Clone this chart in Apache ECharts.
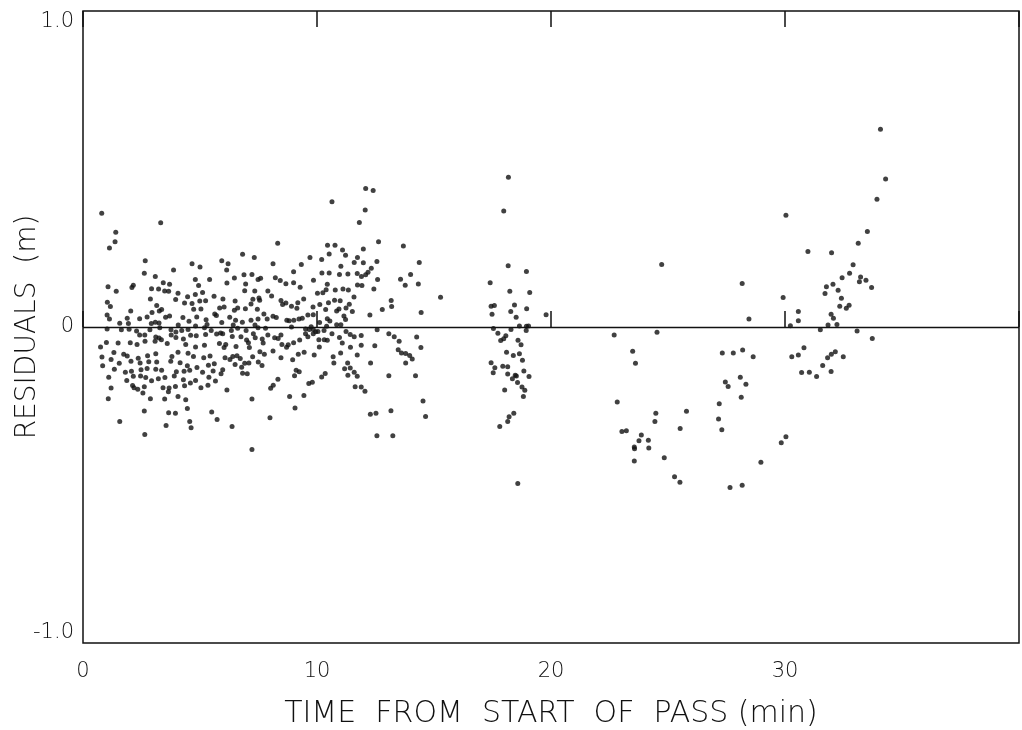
<!DOCTYPE html>
<html>
<head>
<meta charset="utf-8">
<title>Residuals</title>
<script src="https://cdn.jsdelivr.net/npm/echarts@6/dist/echarts.min.js"></script>
<style>
  html, body { margin: 0; padding: 0; background: #fff; }
  #chart { width: 1022px; height: 730px; }
</style>
</head>
<body>
<div id="chart"></div>
<script>
// [time (min), residual (m)], grouped by stretch of the pass
var earlyPass = [
  [0.80,0.36],[3.32,0.33],[1.40,0.30],[1.37,0.27],[1.13,0.25],[6.82,0.23],[7.32,0.22],[5.93,0.21],[6.20,0.20],[2.66,0.21],
  [4.66,0.20],[5.00,0.19],[3.87,0.18],[2.62,0.17],[6.14,0.18],[3.09,0.16],[3.43,0.14],[3.70,0.135],[4.80,0.15],[5.41,0.15],
  [6.47,0.155],[6.88,0.165],[7.22,0.166],[7.48,0.15],[1.07,0.127],[1.42,0.113],[2.15,0.132],[2.09,0.125],[2.93,0.121],[3.23,0.12],
  [3.49,0.114],[3.66,0.113],[4.94,0.131],[6.95,0.136],[6.15,0.139],[6.91,0.115],[7.34,0.114],[4.06,0.107],[4.47,0.096],[4.80,0.103],
  [5.11,0.109],[5.60,0.097],[5.98,0.089],[2.88,0.089],[3.96,0.087],[6.50,0.082],[7.26,0.088],[7.52,0.092],[1.04,0.078],[1.17,0.065],
  [3.15,0.068],[4.34,0.076],[4.66,0.074],[4.99,0.082],[5.24,0.083],[2.04,0.051],[3.36,0.055],[2.95,0.046],[3.26,0.051],[4.73,0.056],
  [5.04,0.057],[5.84,0.06],[6.03,0.063],[5.63,0.041],[6.47,0.053],[6.61,0.06],[6.94,0.058],[7.18,0.073],[7.45,0.056],[1.03,0.038],
  [1.13,0.025],[1.57,0.012],[1.89,0.028],[2.42,0.026],[2.74,0.032],[3.53,0.031],[3.70,0.035],[4.27,0.03],[4.86,0.032],[5.26,0.023],
  [5.70,0.036],[6.27,0.031],[6.52,0.021],[6.81,0.015],[7.18,0.021],[7.48,0.025],[1.94,0.011],[3.09,0.015],[2.92,0.011],[3.25,0.013],
  [4.07,0.006],[5.30,0.008],[5.93,0.014],[6.42,0.006],[7.35,0.006],[4.53,0.018],
  [1.03,-0.006],[1.64,-0.009],[1.97,-0.007],[2.29,-0.013],[2.86,-0.009],[3.28,-0.002],[3.76,-0.009],[3.97,-0.016],[4.22,-0.011],[4.49,-0.008],
  [4.81,0.003],[5.19,-0.002],[5.48,-0.011],[5.88,-0.019],[6.34,-0.011],[6.61,-0.004],[6.97,-0.011],[7.28,-0.021],[7.48,-0.002],
  [2.42,-0.025],[2.64,-0.025],[3.11,-0.032],[3.77,-0.025],[3.97,-0.033],[4.29,-0.038],[4.60,-0.026],[4.84,-0.028],[5.24,-0.024],[5.71,-0.022],
  [5.97,-0.021],[6.38,-0.03],[6.75,-0.031],[6.99,-0.041],[7.36,-0.034],[3.25,-0.035],[3.35,-0.04],
  [1.00,-0.049],[0.75,-0.063],[1.50,-0.051],[2.02,-0.05],[2.31,-0.055],[2.65,-0.045],[3.08,-0.045],[3.60,-0.052],[4.39,-0.055],[4.81,-0.063],
  [5.19,-0.058],[5.83,-0.052],[6.10,-0.055],[6.03,-0.065],[6.54,-0.062],[7.07,-0.05],[7.11,-0.065],
  [1.32,-0.081],[0.81,-0.095],[1.74,-0.086],[1.89,-0.092],[2.36,-0.099],[2.76,-0.091],[3.11,-0.085],[3.80,-0.093],[4.06,-0.08],[4.49,-0.083],
  [4.72,-0.093],[5.16,-0.097],[5.43,-0.092],[6.07,-0.097],[6.40,-0.093],[6.58,-0.091],[6.72,-0.1],[7.25,-0.094],[6.28,-0.103],
  [0.84,-0.123],[1.20,-0.103],[1.55,-0.115],[2.05,-0.108],[2.44,-0.114],[2.81,-0.11],[3.15,-0.111],[3.75,-0.108],[4.15,-0.113],[4.46,-0.123],
  [4.87,-0.128],[5.36,-0.121],[5.61,-0.116],[6.91,-0.115],[7.09,-0.114],[7.49,-0.111],
  [1.34,-0.134],[1.81,-0.143],[2.07,-0.14],[2.48,-0.135],[2.74,-0.131],[3.11,-0.134],[3.36,-0.137],[3.99,-0.142],[4.32,-0.14],[4.56,-0.137],
  [5.11,-0.143],[5.56,-0.139],[5.97,-0.135],[6.78,-0.127],[6.82,-0.146],[7.02,-0.148],
  [1.10,-0.159],[1.87,-0.169],[2.15,-0.156],[2.46,-0.155],[2.68,-0.16],[2.93,-0.17],[3.22,-0.164],[3.50,-0.16],[3.90,-0.155],[4.29,-0.167],
  [4.81,-0.169],[5.38,-0.159],[5.66,-0.171],[5.90,-0.148],[6.50,-0.119],
  [2.12,-0.185],[2.18,-0.192],[2.34,-0.197],[2.62,-0.189],[3.42,-0.192],[3.68,-0.193],[3.95,-0.188],[4.34,-0.186],[4.59,-0.177],[5.04,-0.192],
  [5.34,-0.184],[6.15,-0.199],[1.20,-0.193],[1.08,-0.227],[2.56,-0.209],[2.88,-0.227],[3.65,-0.205],[3.49,-0.228],[4.06,-0.22],[4.39,-0.23],
  [7.22,-0.228],[2.62,-0.266],[3.66,-0.271],[3.95,-0.273],[4.46,-0.258],[5.50,-0.269],[5.73,-0.293],[4.56,-0.299],[1.57,-0.299],[3.55,-0.312],
  [4.62,-0.319],[6.37,-0.315],[2.64,-0.34],[7.22,-0.388]
];

var midPass = [
  [12.08,0.438],[12.40,0.432],[10.64,0.396],[12.06,0.370],[11.81,0.331],[12.63,0.270],[8.32,0.265],[13.69,0.256],[10.45,0.259],[10.77,0.259],
  [11.98,0.247],[11.09,0.244],[11.22,0.227],[10.52,0.231],[9.70,0.220],[10.20,0.214],[11.73,0.220],[14.37,0.204],[8.12,0.200],[9.33,0.198],
  [11.59,0.204],[11.98,0.203],[12.56,0.207],[11.02,0.192],[12.32,0.186],[12.18,0.173],[12.08,0.165],[11.90,0.160],[11.72,0.169],[11.32,0.168],
  [14.00,0.166],[10.21,0.171],[10.52,0.171],[9.00,0.175],[13.57,0.151],[13.77,0.132],[14.33,0.136],[12.59,0.150],[8.22,0.156],[7.59,0.154],
  [8.43,0.147],[8.67,0.137],[9.00,0.140],[9.28,0.126],[9.85,0.148],[10.44,0.135],[10.96,0.166],[11.34,0.117],[11.11,0.120],[10.78,0.117],
  [10.39,0.118],[12.43,0.120],[11.73,0.133],[11.92,0.131],[10.02,0.107],[10.25,0.108],[7.90,0.114],[8.06,0.098],[15.28,0.094],[13.17,0.084],
  [13.19,0.065],[12.79,0.055],[14.45,0.046],[12.26,0.038],[7.55,0.085],[8.46,0.084],[8.67,0.076],[8.53,0.071],[8.91,0.066],[9.18,0.077],
  [9.43,0.089],[9.83,0.063],[10.12,0.071],[10.49,0.077],[10.75,0.085],[10.99,0.083],[11.58,0.095],[11.38,0.072],[11.24,0.060],[10.94,0.057],
  [10.84,0.051],[11.51,0.049],[10.37,0.055],[9.84,0.039],[9.61,0.038],[9.37,0.028],[9.23,0.025],[9.14,0.059],[7.73,0.041],[8.12,0.034],
  [8.26,0.030],[8.81,0.020],[9.01,0.021],[8.71,0.021],[7.87,0.025],[10.11,0.014],[10.44,0.026],[10.55,0.019],[10.84,0.007],[11.02,0.007],
  [11.15,0.035],[11.22,0.024],[9.75,0.001],[10.04,-0.014],[10.30,-0.011],[10.41,0.002],[9.94,-0.015],[7.80,-0.004],[8.91,0.000],[9.51,-0.006],
  [9.67,-0.008],[9.84,-0.008],
  [7.66,-0.038],[7.70,-0.051],[7.90,-0.025],[8.19,-0.034],[8.46,-0.025],[8.34,-0.036],[8.50,-0.055],[8.77,-0.056],[9.00,-0.050],[9.26,-0.041],
  [9.51,-0.021],[9.61,-0.031],[9.84,-0.021],[10.08,-0.040],[10.31,-0.040],[10.44,-0.042],[10.64,-0.021],[10.96,-0.033],[11.24,-0.014],[11.42,-0.024],
  [11.59,-0.031],[11.89,-0.027],[12.57,-0.009],[13.07,-0.021],[13.30,-0.031],[13.51,-0.045],[14.26,-0.032],[12.47,-0.059],[12.29,-0.114],[13.47,-0.072],
  [13.61,-0.082],[13.79,-0.084],[13.96,-0.090],[14.07,-0.101],[14.44,-0.065],[13.79,-0.114],[11.89,-0.058],[11.72,-0.089],[11.43,-0.064],[11.08,-0.051],
  [11.01,-0.082],[10.69,-0.094],[10.72,-0.114],[10.10,-0.063],[9.88,-0.089],[9.45,-0.080],[9.20,-0.086],[8.96,-0.104],[8.70,-0.064],[8.46,-0.097],
  [8.12,-0.076],[7.75,-0.086],[7.56,-0.078],[7.65,-0.122],[8.33,-0.165],[8.13,-0.184],[8.02,-0.194],[8.83,-0.220],[9.44,-0.217],[9.06,-0.256],
  [9.65,-0.179],[9.80,-0.175],[9.04,-0.154],[9.11,-0.137],[9.24,-0.142],[10.35,-0.147],[10.20,-0.158],[11.31,-0.114],[11.42,-0.130],[11.18,-0.132],
  [11.32,-0.153],[11.59,-0.143],[11.72,-0.156],[11.63,-0.189],[11.89,-0.190],[12.05,-0.203],[13.07,-0.154],[14.21,-0.154],[14.53,-0.234],[13.16,-0.265],
  [12.28,-0.276],[12.52,-0.273],[14.64,-0.283],[12.56,-0.344],[13.24,-0.344],[7.99,-0.287]
];

var clusterPass = [
  [18.18,0.474],[17.98,0.367],[18.17,0.194],[18.95,0.176],[17.40,0.140],[18.24,0.113],[19.09,0.109],[17.44,0.066],[17.58,0.068],[18.44,0.070],
  [18.96,0.058],[18.28,0.049],[17.48,0.040],[18.51,0.031],[19.79,0.039],[18.65,0.003],[18.95,0.002],[19.04,0.003],[17.54,-0.005],[18.29,-0.008],
  [18.94,-0.011],[17.73,-0.020],[18.07,-0.028],[17.98,-0.037],[17.85,-0.043],[18.59,-0.042],[18.72,-0.056],[18.10,-0.080],[18.39,-0.090],[18.65,-0.085],
  [18.78,-0.105],[17.44,-0.113],[17.60,-0.129],[17.94,-0.124],[18.15,-0.126],[17.53,-0.145],[18.84,-0.139],[18.15,-0.149],[18.47,-0.153],[18.52,-0.155],
  [19.06,-0.157],[18.35,-0.164],[18.57,-0.176],[18.76,-0.190],[18.88,-0.200],[18.02,-0.199],[18.82,-0.220],[18.41,-0.273],[18.21,-0.284],[18.15,-0.299],
  [17.81,-0.315],[18.58,-0.495]
];

var latePass = [
  [24.73,0.198],[28.17,0.138],[28.46,0.025],[22.70,-0.025],[24.53,-0.017],[23.49,-0.077],[23.61,-0.115],[27.32,-0.082],[27.79,-0.082],[28.19,-0.073],
  [28.64,-0.094],[28.09,-0.159],[27.45,-0.174],[27.57,-0.188],[28.33,-0.181],[28.13,-0.222],[22.83,-0.237],[27.19,-0.243],[24.48,-0.273],[25.79,-0.267],
  [24.44,-0.299],[27.16,-0.291],[25.52,-0.321],[27.30,-0.325],[23.03,-0.331],[23.22,-0.328],[23.86,-0.342],[23.76,-0.360],[24.16,-0.358],[23.56,-0.380],
  [23.57,-0.385],[24.18,-0.383],[23.56,-0.424],[24.84,-0.414],[30.04,-0.347],[29.84,-0.366],[28.97,-0.428],[25.28,-0.474],[25.51,-0.491],[27.65,-0.508],
  [28.17,-0.501],
  [34.08,0.626],[34.30,0.468],[33.93,0.404],[30.04,0.354],[33.52,0.302],[33.13,0.265],[30.98,0.239],[31.99,0.235],[32.91,0.197],[32.76,0.170],
  [32.44,0.156],[33.23,0.158],[33.46,0.148],[33.18,0.143],[33.70,0.125],[31.77,0.127],[32.05,0.135],[31.71,0.106],[32.27,0.116],[32.41,0.091],
  [29.92,0.093],[32.34,0.066],[32.62,0.059],[32.74,0.069],[30.57,0.049],[31.97,0.040],[32.07,0.028],[30.57,0.020],[30.23,0.004],[31.84,0.006],
  [32.22,0.008],[31.51,-0.009],[33.08,-0.013],[33.73,-0.036],[30.81,-0.066],[30.29,-0.094],[30.57,-0.089],[32.15,-0.078],[31.98,-0.086],[31.82,-0.097],
  [32.49,-0.094],[31.61,-0.122],[30.71,-0.144],[31.04,-0.143],[31.35,-0.157],[31.97,-0.141]
];

var xTicks = [0, 10, 20, 30];
var yTickLabels = { "-1": "-1.0", "0": "0", "1": "1.0" };

var ink = "#111";
var font = "'DejaVu Sans', sans-serif";

function dots(name, data) {
  return {
    name: name,
    type: "scatter",
    data: data,
    symbol: "circle",
    symbolSize: 5,
    itemStyle: { color: ink },
    silent: true
  };
}

var chart = echarts.init(document.getElementById("chart"));

var series = [
  dots("early", earlyPass),
  dots("mid", midPass),
  dots("cluster", clusterPass),
  dots("late", latePass)
];
// the zero reference line
series[0].markLine = {
  silent: true,
  symbol: ["none", "none"],
  label: { show: false },
  lineStyle: { color: ink, width: 1.3, type: "solid" },
  data: [{ yAxis: 0 }]
};

var option = {
  backgroundColor: "#fff",
  animation: false,
  grid: {
    left: 83,
    right: 3,
    top: 11,
    bottom: 87,
    outerBoundsMode: "none",
    show: true,
    borderColor: ink,
    borderWidth: 1.5
  },
  xAxis: [
    {
      type: "value",
      min: 0,
      max: 40,
      interval: 10,
      position: "bottom",
      name: "TIME  FROM  START  OF  PASS (min)",
      nameLocation: "middle",
      nameGap: 56,
      nameMoveOverlap: false,
      nameTextStyle: { color: ink, fontSize: 30, fontWeight: 200, fontFamily: font },
      axisLine: { show: false },
      axisTick: { show: true, inside: true, length: 16, lineStyle: { color: ink, width: 1.5 } },
      axisLabel: {
        color: ink,
        fontSize: 21,
        fontWeight: 200,
        fontFamily: font,
        margin: 18,
        formatter: function (v) { return xTicks.indexOf(v) >= 0 ? String(v) : ""; }
      },
      splitLine: { show: false }
    },
    {
      type: "value",
      min: 0,
      max: 40,
      interval: 10,
      position: "top",
      axisLine: { show: false },
      axisTick: { show: true, inside: true, length: 16, lineStyle: { color: ink, width: 1.5 } },
      axisLabel: { show: false },
      splitLine: { show: false }
    }
  ],
  yAxis: {
    type: "value",
    min: -1,
    max: 1,
    interval: 1,
    name: "RESIDUALS  (m)",
    nameLocation: "middle",
    nameGap: 41,
    nameRotate: 90,
    nameMoveOverlap: false,
    nameTextStyle: { color: ink, fontSize: 28, fontWeight: 200, fontFamily: font },
    axisLine: { show: false },
    axisTick: { show: false },
    axisLabel: {
      color: ink,
      fontSize: 21,
      fontWeight: 200,
      fontFamily: font,
      margin: 9,
      verticalAlignMaxLabel: "top",
      verticalAlignMinLabel: "bottom",
      formatter: function (v) { return yTickLabels[String(v)]; }
    },
    splitLine: { show: false }
  },
  series: series
};

chart.setOption(option);
</script>
</body>
</html>
